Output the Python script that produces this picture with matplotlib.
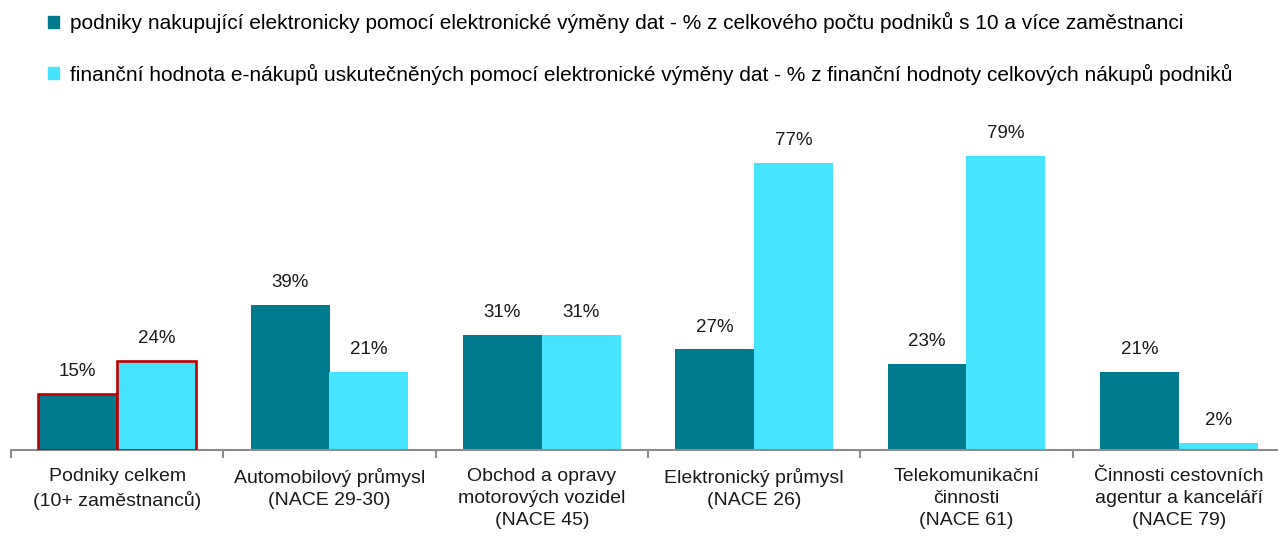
import matplotlib
matplotlib.use("Agg")
import matplotlib.pyplot as plt
import numpy as np
from matplotlib.patches import Patch

plt.rcParams['font.family'] = ['Liberation Sans', 'DejaVu Sans']

categories = ["Podniky celkem\n(10+ zaměstnanců)", "Automobilový průmysl\n(NACE 29-30)",
              "Obchod a opravy\nmotorových vozidel\n(NACE 45)", "Elektronický průmysl\n(NACE 26)",
              "Telekomunikační\nčinnosti\n(NACE 61)", "Činnosti cestovních\nagentur a kanceláří\n(NACE 79)"]
series1_name = "podniky nakupující elektronicky pomocí elektronické výměny dat - % z celkového počtu podniků s 10 a více zaměstnanci"
series2_name = "finanční hodnota e-nákupů uskutečněných pomocí elektronické výměny dat - % z finanční hodnoty celkových nákupů podniků"
series1 = [15, 39, 31, 27, 23, 21]
series2 = [24, 21, 31, 77, 79, 2]

c1 = "#007A8D"
c2 = "#47E4FF"

fig = plt.figure(figsize=(12.78, 5.36), dpi=100)
ax = fig.add_axes([11/1278, 1 - 450/536, 1274/1278, 336/536])

x = np.arange(len(categories))
w = 0.372
b1 = ax.bar(x - w/2, series1, w, color=c1, zorder=2)
b2 = ax.bar(x + w/2, series2, w, color=c2, zorder=2)
for b in (b1[0], b2[0]):
    b.set_edgecolor("#C00000")
    b.set_linewidth(1.9)
    b.set_zorder(3)

for bars, vals in ((b1, series1), (b2, series2)):
    for r, v in zip(bars, vals):
        ax.annotate(f"{v}%", (r.get_x() + r.get_width()/2, r.get_height()),
                    xytext=(0, 10), textcoords="offset points", ha="center", va="bottom",
                    fontsize=13.5, color="#1a1a1a")

ax.set_xlim(-0.5, len(categories) - 0.5)
ax.set_ylim(0, 90.2)
ax.set_yticks([])
for s in ("top", "right", "left"):
    ax.spines[s].set_visible(False)
ax.spines["bottom"].set_color("#8c8c8c")
ax.spines["bottom"].set_linewidth(1.5)

ax.set_xticks(np.arange(-0.5, len(categories)), minor=False)
ax.set_xticklabels([])
ax.tick_params(axis="x", which="major", length=6, color="#8c8c8c", width=1.5, direction="out")
ax.set_xticks(x, minor=True)
ax.set_xticklabels(categories, minor=True, fontsize=14, color="#1a1a1a", linespacing=1.4)
ax.tick_params(axis="x", which="minor", length=0, pad=13)

handles = [Patch(color=c1), Patch(color=c2)]
fig.legend(handles, [series1_name, series2_name], loc="upper left",
           bbox_to_anchor=(0.023, 1.012), frameon=False, fontsize=15,
           handlelength=0.5, handleheight=0.5, handletextpad=0.55, labelspacing=1.45)

fig.savefig("out.png", dpi=100)
